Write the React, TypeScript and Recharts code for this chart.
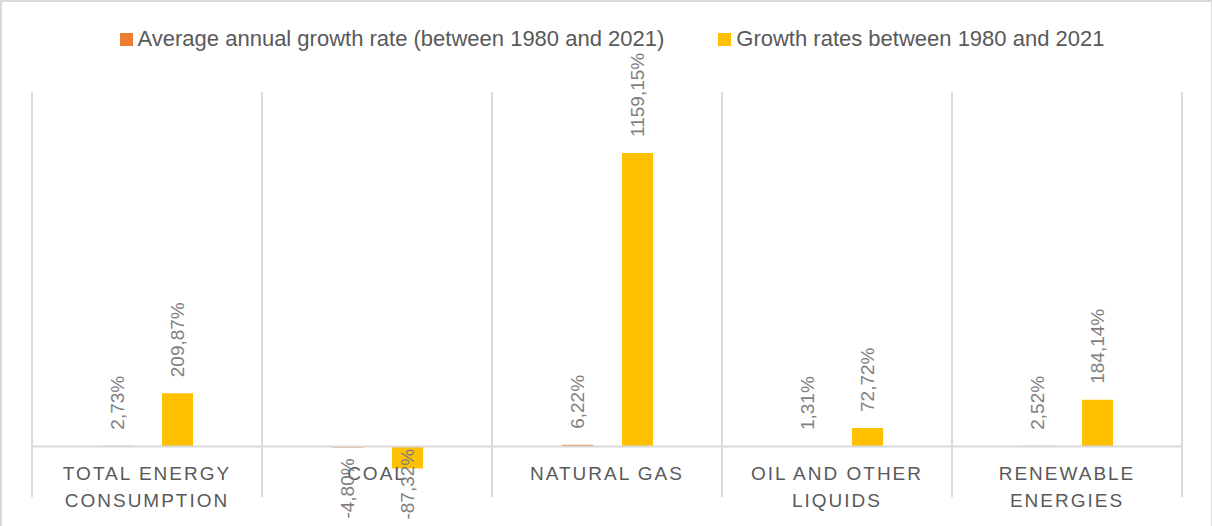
import { Bar, BarChart, CartesianGrid, LabelList, Legend, ReferenceLine, XAxis, YAxis } from 'recharts';

const categories = ['Total energy consumption', 'Coal', 'Natural gas', 'Oil and other liquids', 'Renewable energies'];
const categoryLines = [['TOTAL ENERGY', 'CONSUMPTION'], ['COAL'], ['NATURAL GAS'], ['OIL AND OTHER', 'LIQUIDS'], ['RENEWABLE', 'ENERGIES']];
const averageAnnual = [2.73, -4.8, 6.22, 1.31, 2.52];
const growthTotal = [209.87, -87.32, 1159.15, 72.72, 184.14];
const seriesNames = ['Average annual growth rate (between 1980 and 2021)', 'Growth rates between 1980 and 2021'];
const seriesColors = ['#ED7D31', '#FFC000'];

const data = categories.map((name, i) => ({
  name,
  average: averageAnnual[i],
  growth: growthTotal[i],
}));

const FONT = '"Liberation Sans", Arial, sans-serif';
const CHART_W = 1212;
const CHART_H = 526;

const fmt = (v: number) => v.toFixed(2).replace('.', ',') + '%';

function ValueLabel(props: any) {
  const { x, y, width, height, value } = props;
  const cx = x + width / 2;
  const top = Math.min(y, y + height);
  const bottom = Math.max(y, y + height);
  if (value >= 0) {
    return (
      <text
        transform={`translate(${cx},${top - 16}) rotate(-90)`}
        textAnchor="start"
        dominantBaseline="central"
        fill="#7F7F7F"
        fontSize={19}
        fontFamily={FONT}
      >
        {fmt(value)}
      </text>
    );
  }
  // negative labels sit below the bar, kept inside the chart box
  const len = fmt(value).length * 9.6;
  const start = Math.min(bottom + 11, CHART_H - 10 - len);
  return (
    <text
      transform={`translate(${cx},${start}) rotate(-90)`}
      textAnchor="end"
      dominantBaseline="central"
      fill="#7F7F7F"
      fontSize={19}
      fontFamily={FONT}
    >
      {fmt(value)}
    </text>
  );
}

function CategoryTick(props: any) {
  const { x, y, payload } = props;
  const idx = categories.indexOf(payload?.value);
  const lines = categoryLines[idx] || [];
  return (
    <text textAnchor="middle" fill="#595959" fontSize={19} fontFamily={FONT} letterSpacing={2}>
      {lines.map((l, i) => (
        <tspan key={i} x={x} y={y - 17 + i * 27}>
          {l}
        </tspan>
      ))}
    </text>
  );
}

function LegendBox() {
  return (
    <div
      style={{
        height: 82,
        paddingTop: 16,
        boxSizing: 'border-box',
        display: 'flex',
        alignItems: 'flex-start',
        justifyContent: 'center',
        gap: 54,
        paddingLeft: 10,
        fontFamily: FONT,
        fontSize: 22,
        color: '#595959',
        lineHeight: '26px',
      }}
    >
      {seriesNames.map((n, i) => (
        <div key={n} style={{ display: 'flex', alignItems: 'center', gap: 5 }}>
          <span style={{ width: 13, height: 13, background: seriesColors[i], display: 'inline-block' }} />
          <span>{n}</span>
        </div>
      ))}
    </div>
  );
}

export default function App() {
  return (
    <div
      style={{
        position: 'absolute',
        left: 0,
        top: 0,
        width: CHART_W,
        height: CHART_H,
        boxSizing: 'border-box',
        borderTop: '2px solid #D9D9D9',
        borderLeft: '2px solid #D9D9D9',
        borderRight: '1px solid #D9D9D9',
        background: '#fff',
      }}
    >
      <div style={{ position: 'absolute', left: -2, top: -2 }}>
        <BarChart
          width={CHART_W}
          height={CHART_H}
          data={data}
          margin={{ top: 10, right: 30, bottom: 0, left: 32 }}
          barGap={29}
        >
          <CartesianGrid
            horizontal={false}
            stroke="#D9D9D9"
            strokeWidth={2}
            verticalCoordinatesGenerator={({ offset }: any) =>
              categories.map((_, i) => offset.left + (i * offset.width) / categories.length).concat(offset.left + offset.width)
            }
          />
          <XAxis
            dataKey="name"
            height={29}
            axisLine={false}
            tickLine={false}
            tickSize={0}
            tickMargin={0}
            interval={0}
            tick={<CategoryTick />}
          />
          <YAxis hide domain={[-200, 1400]} />
          <Legend verticalAlign="top" content={<LegendBox />} />
          <ReferenceLine y={0} stroke="#D9D9D9" strokeWidth={2} />
          <Bar dataKey="average" name={seriesNames[0]} fill={seriesColors[0]} barSize={31} isAnimationActive={false}>
            <LabelList dataKey="average" content={<ValueLabel />} />
          </Bar>
          <Bar dataKey="growth" name={seriesNames[1]} fill={seriesColors[1]} barSize={31} isAnimationActive={false}>
            <LabelList dataKey="growth" content={<ValueLabel />} />
          </Bar>
        </BarChart>
      </div>
    </div>
  );
}
